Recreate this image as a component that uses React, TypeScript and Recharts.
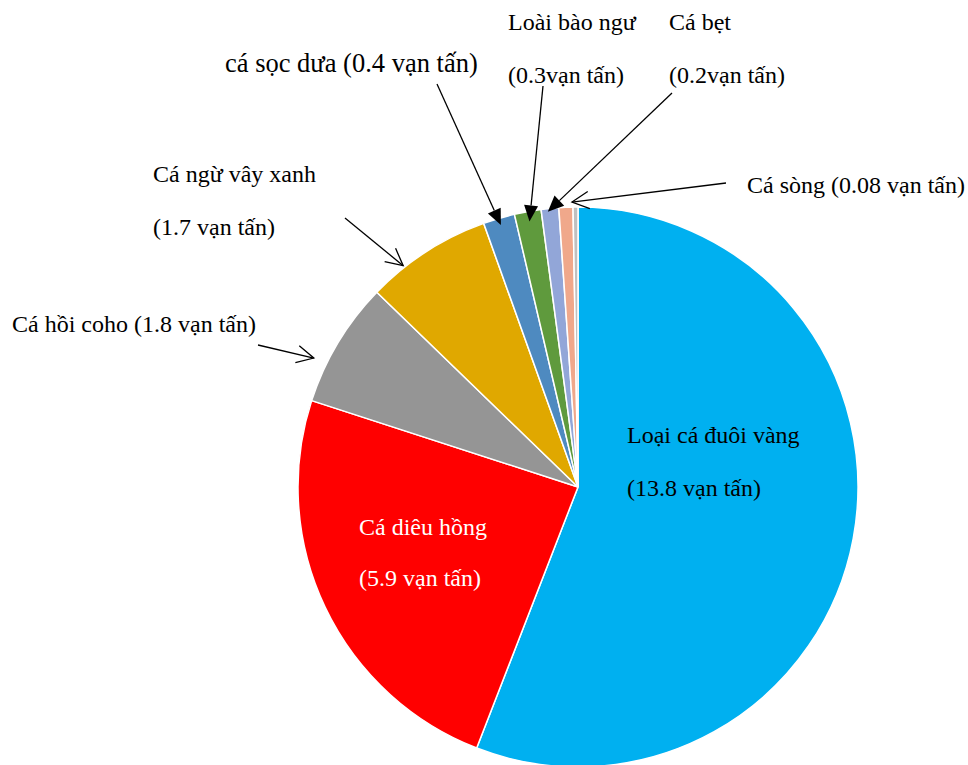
import { PieChart, Pie, Cell } from "recharts";

// clockwise from 12 o'clock, values in vạn tấn
const species = [
  "Loại cá đuôi vàng",
  "Cá diêu hồng",
  "Cá hồi coho",
  "Cá ngừ vây xanh",
  "cá sọc dưa",
  "Loài bào ngư",
  "Cá bẹt",
  "Khác",
  "Cá sòng",
];
const tonnage = [13.8, 5.95, 1.79, 1.8, 0.45, 0.38, 0.25, 0.2, 0.07];
const captions: string[][] = [
  ["Loại cá đuôi vàng", "(13.8 vạn tấn)"],
  ["Cá diêu hồng", "(5.9 vạn tấn)"],
  ["Cá hồi coho (1.8 vạn tấn)"],
  ["Cá ngừ vây xanh", "(1.7 vạn tấn)"],
  ["cá sọc dưa (0.4 vạn tấn)"],
  ["Loài bào ngư", "(0.3vạn tấn)"],
  ["Cá bẹt", "(0.2vạn tấn)"],
  [],
  ["Cá sòng (0.08 vạn tấn)"],
];

const colors = ["#00B0F0", "#FF0000", "#959595", "#E0A800", "#4E8AC0", "#5F9A3D", "#92A6D8", "#F0A88B", "#C0C0C0"];

const data = species.map((name, i) => ({ name, value: tonnage[i] }));

// annotation layout: text spot, arrow start, how far past the rim the arrow ends,
// and a small clockwise turn (degrees) away from the slice's middle
type Note = {
  x: number;
  y: number;
  gap?: number;
  size?: number;
  color?: string;
  arrow?: "filled" | "open";
  from?: [number, number];
  reach?: number;
  turn?: number;
};

const notes: (Note | null)[] = [
  { x: 627, y: 443, gap: 53 },
  { x: 359, y: 535, gap: 51, color: "#fff" },
  { x: 12, y: 332, arrow: "open", from: [258, 345], reach: 14, turn: -5 },
  { x: 153, y: 182, gap: 53, arrow: "open", from: [345, 218], reach: 2, turn: -5.5 },
  { x: 225, y: 72, size: 26.5, arrow: "filled", from: [437, 84], reach: -7 },
  { x: 508, y: 30, gap: 53, arrow: "filled", from: [543, 86], reach: -10 },
  { x: 669, y: 30, gap: 53, arrow: "filled", from: [672, 93], reach: -3, turn: -0.5 },
  null,
  { x: 747, y: 193, arrow: "open", from: [726, 183], reach: 5, turn: -0.7 },
];

const RADIAN = Math.PI / 180;
const serif = "'Liberation Serif', 'Times New Roman', serif";

const renderLabel = (props: any) => {
  const { cx, cy, midAngle, outerRadius, index } = props;
  const note = notes[index];
  if (!note) return null;
  const lines = captions[index];
  let arrow = null;
  if (note.arrow && note.from) {
    const r = outerRadius + (note.reach ?? 0);
    const ang = midAngle - (note.turn ?? 0);
    const tx = cx + r * Math.cos(-ang * RADIAN);
    const ty = cy + r * Math.sin(-ang * RADIAN);
    const [sx, sy] = note.from;
    const a = Math.atan2(ty - sy, tx - sx);
    if (note.arrow === "filled") {
      const len = 16;
      const half = 7;
      const bx = tx - len * Math.cos(a);
      const by = ty - len * Math.sin(a);
      const px = -Math.sin(a) * half;
      const py = Math.cos(a) * half;
      arrow = (
        <g>
          <line x1={sx} y1={sy} x2={bx} y2={by} stroke="#000" strokeWidth={1.3} />
          <polygon points={`${tx},${ty} ${bx + px},${by + py} ${bx - px},${by - py}`} fill="#000" />
        </g>
      );
    } else {
      const arm = 19;
      const spread = 27 * RADIAN;
      arrow = (
        <g stroke="#000" strokeWidth={1.3} fill="none">
          <line x1={sx} y1={sy} x2={tx} y2={ty} />
          <polyline
            points={`${tx - arm * Math.cos(a - spread)},${ty - arm * Math.sin(a - spread)} ${tx},${ty} ${
              tx - arm * Math.cos(a + spread)
            },${ty - arm * Math.sin(a + spread)}`}
          />
        </g>
      );
    }
  }
  return (
    <g>
      {arrow}
      {lines.map((line, i) => (
        <text
          key={i}
          x={note.x}
          y={note.y + i * (note.gap ?? 0)}
          fill={note.color ?? "#000"}
          fontSize={note.size ?? 24}
          style={{ fontFamily: serif }}
          textAnchor="start"
        >
          {line}
        </text>
      ))}
    </g>
  );
};

export default function App() {
  return (
    <div style={{ position: "absolute", left: 0, top: 0, width: 968, height: 765, background: "#fff" }}>
      <PieChart width={968} height={765} margin={{ top: 0, right: 0, bottom: 0, left: 0 }}>
        <Pie
          data={data}
          dataKey="value"
          nameKey="name"
          cx={578}
          cy={487}
          outerRadius={280}
          startAngle={90}
          endAngle={-270}
          stroke="#fff"
          strokeWidth={1.5}
          label={renderLabel}
          labelLine={false}
          isAnimationActive={false}
        >
          {data.map((d, i) => (
            <Cell key={d.name} fill={colors[i]} />
          ))}
        </Pie>
      </PieChart>
    </div>
  );
}
